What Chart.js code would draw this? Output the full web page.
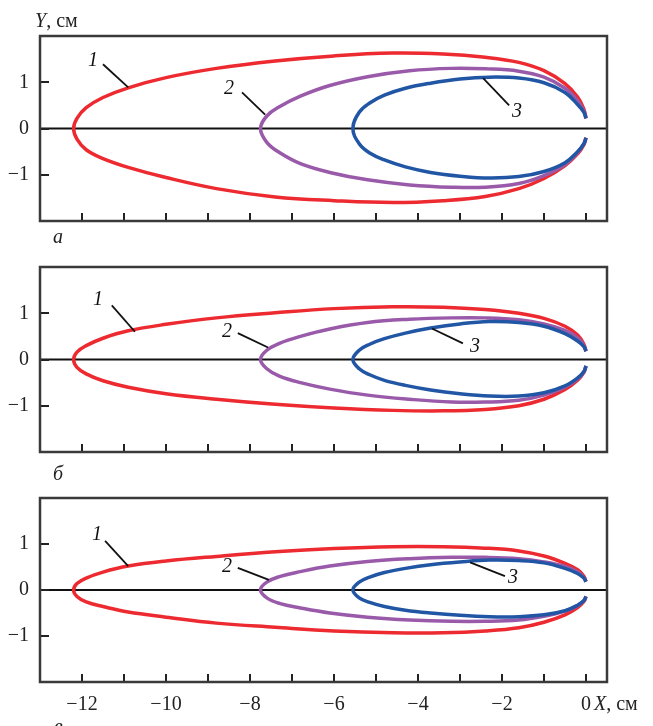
<!DOCTYPE html>
<html>
<head>
<meta charset="utf-8">
<script src="https://cdn.jsdelivr.net/npm/chart.js@4.4.1/dist/chart.umd.min.js"></script>
<style>
  body { margin: 0; background: #fff; width: 653px; height: 726px; overflow: hidden; position: relative; font-family: "Liberation Serif", "Times New Roman", serif; }
  canvas { position: absolute; left: 0; }
  .txt { position: absolute; font-size: 20px; line-height: 1; color: #222; white-space: nowrap; }
</style>
</head>
<body>
<canvas id="plotA" width="653" height="250" style="top:0px"></canvas>
<canvas id="plotB" width="653" height="250" style="top:230px"></canvas>
<canvas id="plotC" width="653" height="266" style="top:460px"></canvas>

<div class="txt" style="left:35px; top:10px"><i>Y</i>, см</div>
<div class="txt" style="left:53px; top:226px"><i>а</i></div>
<div class="txt" style="left:53px; top:463px"><i>б</i></div>
<div class="txt" style="left:54px; top:716px"><i>в</i></div>
<div class="txt" style="left:594px; top:693px"><i>X</i>, см</div>

<script>
// Abscisas de cada curva: rama superior desde x=0 hasta el vértice, luego rama inferior de vuelta
let x1 = [0, -0.05, -0.2, -0.5, -1.0, -1.6, -2.4, -3.4, -4.6, -6, -7.4, -8.8, -10, -10.9, -11.5, -11.9, -12.12,
  -12.2,
  -12.12, -11.9, -11.5, -10.9, -10, -8.8, -7.4, -6, -4.6, -3.4, -2.4, -1.6, -1.0, -0.5, -0.2, -0.05, 0];
let x2 = [0, -0.05, -0.2, -0.5, -1.0, -1.6, -2.4, -3.2, -4.2, -5.2, -6.1, -6.8, -7.3, -7.6,
  -7.75,
  -7.6, -7.3, -6.8, -6.1, -5.2, -4.2, -3.2, -2.4, -1.6, -1.0, -0.5, -0.2, -0.05, 0];
let x3 = [0, -0.05, -0.2, -0.5, -1.0, -1.6, -2.3, -3.0, -3.7, -4.3, -4.8, -5.15, -5.4,
  -5.55,
  -5.4, -5.15, -4.8, -4.3, -3.7, -3.0, -2.3, -1.6, -1.0, -0.5, -0.2, -0.05, 0];

// Panel а
let y1a = [0.22, 0.42, 0.68, 0.97, 1.25, 1.43, 1.54, 1.61, 1.63, 1.57, 1.46, 1.3, 1.1, 0.88, 0.67, 0.45, 0.22,
  0,
  -0.23, -0.46, -0.65, -0.84, -1.06, -1.3, -1.48, -1.56, -1.6, -1.56, -1.47, -1.3, -1.08, -0.8, -0.55, -0.35, -0.2];
let y2a = [0.22, 0.38, 0.6, 0.87, 1.11, 1.24, 1.29, 1.3, 1.25, 1.12, 0.93, 0.7, 0.47, 0.27,
  0,
  -0.3, -0.52, -0.76, -0.95, -1.11, -1.22, -1.27, -1.27, -1.19, -1.02, -0.78, -0.52, -0.33, -0.2];
let y3a = [0.22, 0.35, 0.52, 0.78, 0.99, 1.09, 1.11, 1.07, 0.98, 0.87, 0.72, 0.55, 0.35,
  0,
  -0.33, -0.53, -0.68, -0.83, -0.95, -1.03, -1.07, -1.04, -0.93, -0.74, -0.5, -0.33, -0.2];

// Panel б
let y1b = [0.18, 0.33, 0.53, 0.72, 0.89, 1.0, 1.08, 1.13, 1.14, 1.1, 1.01, 0.9, 0.76, 0.62, 0.46, 0.3, 0.16,
  0,
  -0.17, -0.31, -0.46, -0.6, -0.74, -0.86, -0.97, -1.05, -1.1, -1.11, -1.08, -1.0, -0.86, -0.65, -0.45, -0.28, -0.14];
let y2b = [0.18, 0.3, 0.47, 0.63, 0.77, 0.86, 0.9, 0.9, 0.87, 0.8, 0.66, 0.5, 0.35, 0.2,
  0,
  -0.2, -0.36, -0.5, -0.64, -0.77, -0.86, -0.92, -0.92, -0.88, -0.77, -0.6, -0.42, -0.27, -0.14];
let y3b = [0.18, 0.28, 0.4, 0.56, 0.72, 0.8, 0.82, 0.77, 0.68, 0.57, 0.45, 0.33, 0.2,
  0,
  -0.2, -0.33, -0.45, -0.56, -0.66, -0.74, -0.79, -0.79, -0.72, -0.57, -0.4, -0.26, -0.14];

// Panel в
let y1c = [0.18, 0.3, 0.44, 0.58, 0.74, 0.85, 0.91, 0.94, 0.94, 0.9, 0.83, 0.73, 0.63, 0.52, 0.39, 0.26, 0.14,
  0,
  -0.14, -0.26, -0.36, -0.48, -0.59, -0.72, -0.81, -0.89, -0.93, -0.93, -0.89, -0.82, -0.7, -0.54, -0.38, -0.25, -0.14];
let y2c = [0.18, 0.27, 0.39, 0.51, 0.61, 0.68, 0.71, 0.71, 0.68, 0.62, 0.52, 0.4, 0.29, 0.17,
  0,
  -0.17, -0.29, -0.39, -0.5, -0.59, -0.65, -0.68, -0.68, -0.65, -0.57, -0.46, -0.34, -0.23, -0.14];
let y3c = [0.18, 0.26, 0.36, 0.47, 0.59, 0.64, 0.65, 0.61, 0.55, 0.47, 0.38, 0.28, 0.17,
  0,
  -0.17, -0.27, -0.36, -0.44, -0.5, -0.55, -0.58, -0.58, -0.54, -0.45, -0.33, -0.23, -0.14];

// Marcas de los ejes
let xTicks = [-12, -11, -10, -9, -8, -7, -6, -5, -4, -3, -2, -1, 0];
let yTicks = [-1, 0, 1];

let colores = ['#ec2a30', '#9a5aaa', '#2156a5'];
let fuente = '"Liberation Serif", "Times New Roman", serif';

// Números de curva con su línea guía (en coordenadas de datos)
let notasA = [
  { t: '1', x: -11.74, y: 1.46, x1: -11.5, y1: 1.39, x2: -10.9, y2: 0.89 },
  { t: '2', x: -8.5, y: 0.85, x1: -8.19, y1: 0.78, x2: -7.64, y2: 0.3 },
  { t: '3', x: -1.64, y: 0.37, x1: -1.83, y1: 0.5, x2: -2.45, y2: 1.09 },
];
let notasB = [
  { t: '1', x: -11.62, y: 1.3, x1: -11.29, y1: 1.17, x2: -10.74, y2: 0.6 },
  { t: '2', x: -8.55, y: 0.61, x1: -8.29, y1: 0.57, x2: -7.57, y2: 0.26 },
  { t: '3', x: -2.64, y: 0.28, x1: -2.93, y1: 0.35, x2: -3.67, y2: 0.67 },
];
let notasC = [
  { t: '1', x: -11.64, y: 1.2, x1: -11.45, y1: 1.07, x2: -10.9, y2: 0.52 },
  { t: '2', x: -8.55, y: 0.5, x1: -8.29, y1: 0.48, x2: -7.55, y2: 0.22 },
  { t: '3', x: -1.74, y: 0.26, x1: -1.93, y1: 0.3, x2: -2.76, y2: 0.6 },
];

let menos = (v) => (v < 0 ? '\u2212' + Math.abs(v) : '' + v);

// Plugin: línea de cero, marco, marcas hacia dentro y notas
let marcoPlugin = {
  id: 'marco',
  beforeDatasetsDraw(chart) {
    let { ctx, chartArea: a, scales } = chart;
    let y0 = scales.y.getPixelForValue(0);
    ctx.save();
    ctx.strokeStyle = '#111';
    ctx.lineWidth = 2;
    ctx.beginPath();
    ctx.moveTo(a.left, y0);
    ctx.lineTo(a.right, y0);
    ctx.stroke();
    ctx.restore();
  },
  afterDatasetsDraw(chart, args, opts) {
    let { ctx, chartArea: a, scales } = chart;
    let sx = scales.x, sy = scales.y;
    ctx.save();
    ctx.strokeStyle = '#222';
    ctx.lineWidth = 2;
    ctx.beginPath();
    xTicks.forEach(v => {
      let px = Math.round(sx.getPixelForValue(v));
      ctx.moveTo(px, a.bottom);
      ctx.lineTo(px, a.bottom - 8);
    });
    yTicks.forEach(v => {
      let py = Math.round(sy.getPixelForValue(v));
      ctx.moveTo(a.left, py);
      ctx.lineTo(a.left + 9, py);
    });
    ctx.stroke();

    ctx.strokeStyle = '#3a3a3a';
    ctx.lineWidth = 2.5;
    ctx.strokeRect(a.left, a.top, a.right - a.left, a.bottom - a.top);

    ctx.strokeStyle = '#111';
    ctx.lineWidth = 1.8;
    ctx.fillStyle = '#111';
    ctx.font = 'italic 20px ' + fuente;
    ctx.textAlign = 'center';
    ctx.textBaseline = 'middle';
    (opts.notas || []).forEach(n => {
      ctx.beginPath();
      ctx.moveTo(sx.getPixelForValue(n.x1), sy.getPixelForValue(n.y1));
      ctx.lineTo(sx.getPixelForValue(n.x2), sy.getPixelForValue(n.y2));
      ctx.stroke();
      ctx.fillText(n.t, sx.getPixelForValue(n.x), sy.getPixelForValue(n.y));
    });
    ctx.restore();
  }
};

let crearPanel = (id, ys, notas, padTop, padBottom, conEjeX) => {
  let xs = [x1, x2, x3];
  let datasets = ys.map((yArr, k) => ({
    data: xs[k].map((x, i) => ({ x: x, y: yArr[i] })),
    borderColor: colores[k],
    borderWidth: 3.5,
    pointRadius: 0,
    showLine: true,
    tension: 0.4,
    order: 3 - k,
  }));

  let config = {
    type: 'scatter',
    data: { datasets: datasets },
    options: {
      responsive: false,
      animation: false,
      events: [],
      layout: { padding: { top: padTop, bottom: padBottom, right: 46, left: 0 } },
      plugins: {
        legend: { display: false },
        tooltip: { enabled: false },
        marco: { notas: notas },
      },
      scales: {
        x: {
          type: 'linear',
          min: -13,
          max: 0.5,
          display: conEjeX,
          grid: { display: false, drawTicks: false },
          border: { display: false },
          ticks: {
            stepSize: 1,
            includeBounds: false,
            padding: 11,
            color: '#222',
            font: { family: fuente, size: 20 },
            maxRotation: 0,
            autoSkip: false,
            callback: (v) => (Number.isInteger(v) && v % 2 === 0 && v >= -12 ? menos(v) : ''),
          },
          afterFit: (s) => { s.height = conEjeX ? 44 : 0; },
        },
        y: {
          min: -2,
          max: 2,
          grid: { display: false, drawTicks: false },
          border: { display: false },
          ticks: {
            stepSize: 1,
            padding: 11,
            color: '#222',
            font: { family: fuente, size: 20 },
            callback: (v) => (Math.abs(v) <= 1 ? menos(v) : ''),
          },
          afterFit: (s) => { s.width = 40; },
        },
      },
    },
    plugins: [marcoPlugin],
  };

  return new Chart(document.getElementById(id), config);
};

crearPanel('plotA', [y1a, y2a, y3a], notasA, 36, 29, false);
crearPanel('plotB', [y1b, y2b, y3b], notasB, 37, 28, false);
crearPanel('plotC', [y1c, y2c, y3c], notasC, 38, 0, true);
</script>
</body>
</html>
